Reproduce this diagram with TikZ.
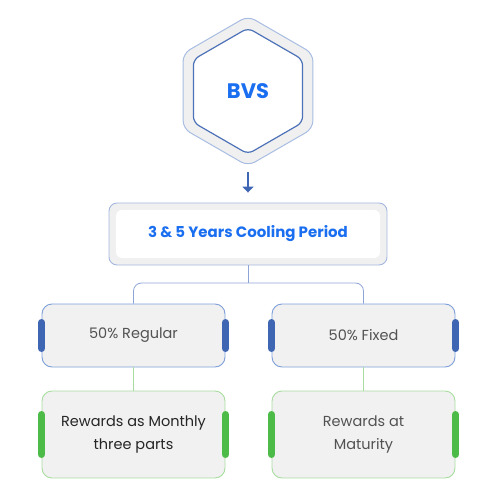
\documentclass[tikz,border=0pt]{standalone}
\usepackage{fontspec}
\setmainfont{Poppins}
\usetikzlibrary{shapes.geometric,arrows.meta}

\definecolor{hexfill}{HTML}{F0F0F0}
\definecolor{hexedge}{HTML}{A9BDE3}
\definecolor{hexinner}{HTML}{4E72B8}
\definecolor{titleblue}{HTML}{1A6EF0}
\definecolor{darkblue}{HTML}{3E66B3}
\definecolor{lineblue}{HTML}{8DA5D6}
\definecolor{boxblue}{HTML}{7E9FD9}
\definecolor{boxgreen}{HTML}{A8DDA0}
\definecolor{bargreen}{HTML}{4DBB47}
\definecolor{boxfill}{HTML}{F1F1F1}

\tikzstyle{hexbox}=[shape=regular polygon, regular polygon sides=6, shape border rotate=30, inner sep=0pt, outer sep=0pt]
\tikzstyle{midbox}=[shape=rectangle, rounded corners=10pt, fill=boxfill, draw=boxblue, line width=0.9pt, minimum width=183pt, minimum height=63pt, align=center, font=\fontsize{14.5}{23}\selectfont, text=black!68]
\tikzstyle{endbox}=[midbox, draw=boxgreen, minimum height=87pt]
\tikzstyle{bar}=[line width=7pt, line cap=round]

\begin{document}
\begin{tikzpicture}[x=1pt,y=-1pt]
        \useasboundingbox (0,0) rectangle (492,495);
        \node[hexbox, minimum size=150pt, fill=hexfill, draw=hexedge, line width=1pt, rounded corners=8pt] at (248,91) (bvsout) {};
        \node[hexbox, minimum size=126pt, fill=white, draw=hexinner, line width=1.2pt, rounded corners=6pt, text=titleblue, font=\fontsize{21}{25}\selectfont\bfseries] at (248,91) (bvs) {BVS};
        \node[shape=rectangle, rounded corners=8pt, fill=hexfill, draw=lineblue!80, line width=0.9pt, minimum width=278pt, minimum height=62pt] at (248,234) (coolout) {};
        \node[shape=rectangle, rounded corners=6pt, fill=white, minimum width=264pt, minimum height=48pt, text=titleblue, font=\fontsize{15}{18}\selectfont\bfseries] at (248,234) (cool) {3 \& 5 Years Cooling Period};
        \node[midbox] at (133.5,335.5) (regular) {50\% Regular};
        \node[midbox] at (363.5,335.5) (fixed) {50\% Fixed};
        \node[endbox, text=black!85] at (133.5,434.5) (monthly) {Rewards as Monthly\\three parts};
        \node[endbox] at (363.5,434.5) (maturity) {Rewards at\\Maturity};
        \coordinate (split) at (248,283);
        \draw [darkblue, line width=2pt, -{Triangle[length=6pt,width=11pt]}, shorten <=6pt, shorten >=10pt] (bvsout.south) -- (coolout.north);
        \draw [lineblue, line width=0.8pt] (coolout.south) -- (split);
        \draw [lineblue, line width=0.8pt, rounded corners=8pt] (regular.north) |- (split) -| (fixed.north);
        \draw [boxgreen, line width=0.9pt] (regular.south) -- (monthly.north);
        \draw [boxgreen, line width=0.9pt] (fixed.south) -- (maturity.north);
        \draw [bar, darkblue] ([yshift=-13pt]regular.west) -- ([yshift=13pt]regular.west);
        \draw [bar, darkblue] ([yshift=-13pt]regular.east) -- ([yshift=13pt]regular.east);
        \draw [bar, darkblue] ([yshift=-13pt]fixed.west) -- ([yshift=13pt]fixed.west);
        \draw [bar, darkblue] ([yshift=-13pt]fixed.east) -- ([yshift=13pt]fixed.east);
        \draw [bar, bargreen] ([yshift=-20pt]monthly.west) -- ([yshift=20pt]monthly.west);
        \draw [bar, bargreen] ([yshift=-20pt]monthly.east) -- ([yshift=20pt]monthly.east);
        \draw [bar, bargreen] ([yshift=-20pt]maturity.west) -- ([yshift=20pt]maturity.west);
        \draw [bar, bargreen] ([yshift=-20pt]maturity.east) -- ([yshift=20pt]maturity.east);
    \end{tikzpicture}
\end{document}
